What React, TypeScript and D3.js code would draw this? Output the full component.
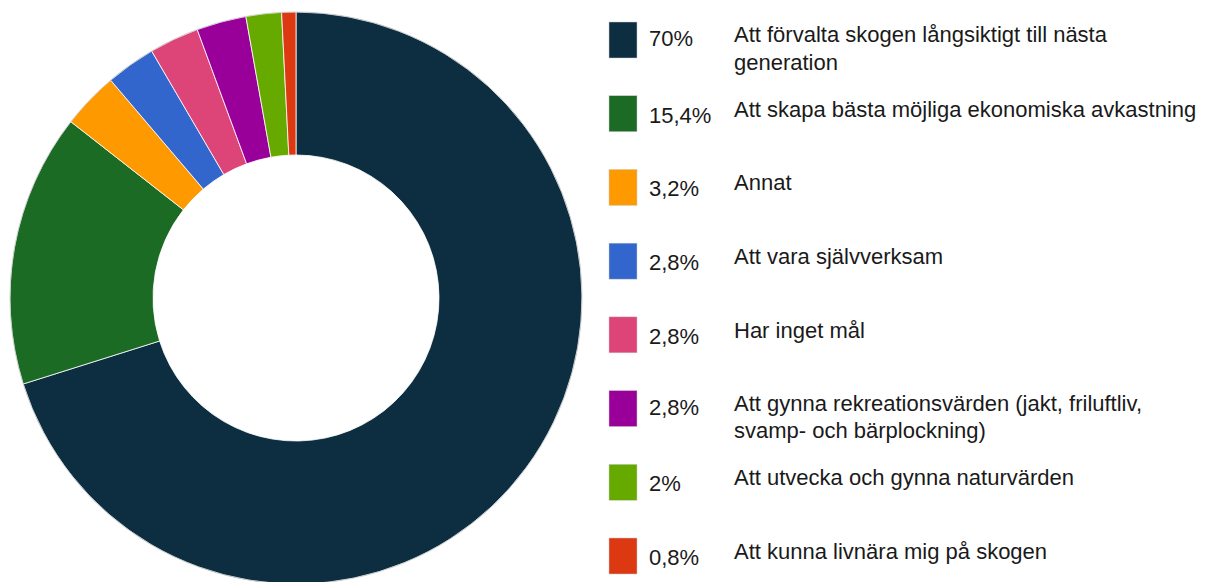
import React from "react";
import * as d3 from "d3";

const labels: string[][] = [
  ["Att förvalta skogen långsiktigt till nästa", "generation"],
  ["Att skapa bästa möjliga ekonomiska avkastning"],
  ["Annat"],
  ["Att vara självverksam"],
  ["Har inget mål"],
  ["Att gynna rekreationsvärden (jakt, friluftliv,", "svamp- och bärplockning)"],
  ["Att utvecka och gynna naturvärden"],
  ["Att kunna livnära mig på skogen"],
];
const values: number[] = [70, 15.4, 3.2, 2.8, 2.8, 2.8, 2, 0.8];
const pctLabels: string[] = ["70%", "15,4%", "3,2%", "2,8%", "2,8%", "2,8%", "2%", "0,8%"];
const colors: string[] = ["#0c2e40", "#1b6b25", "#ff9900", "#3366cc", "#dd4477", "#990099", "#66aa00", "#dc3912"];

export default function App() {
  const W = 1215, H = 582;
  const cx = 296, cy = 298, R = 286, r = 143;
  const pie = d3.pie<number>().sort(null).value((d) => d);
  const arcs = pie(values);
  const arc = d3.arc<d3.PieArcDatum<number>>().innerRadius(r).outerRadius(R);
  const legendY = d3.scaleLinear().domain([0, values.length - 1]).range([40, 556]);
  const font = "'Liberation Sans', Arial, sans-serif";
  return (
    <svg width={W} height={H} style={{ position: "absolute", left: 0, top: 0, background: "#fff" }}>
      <g transform={`translate(${cx},${cy})`}>
        {arcs.map((a, i) => (
          <path key={i} d={arc(a) || ""} fill={colors[i]} stroke="#fff" strokeWidth={0.8} />
        ))}
        <circle r={R} fill="none" stroke="#bbb" strokeWidth={0.6} />
      </g>
      {values.map((v, i) => {
        const y = legendY(i);
        const two = labels[i].length > 1;
        return (
          <g key={i}>
            <rect x={609} y={y - 18} width={28} height={36} fill={colors[i]} stroke="#ccc" strokeWidth={0.5} />
            <text x={649} y={y + (two ? 6 : 9)} fontFamily={font} fontSize={22} fill="#1a1a1a">
              {pctLabels[i]}
            </text>
            {labels[i].map((l, j) => (
              <text key={j} x={734} y={y + (two ? 2 : 3) + j * 27.5} fontFamily={font} fontSize={22} fill="#1a1a1a">
                {l}
              </text>
            ))}
          </g>
        );
      })}
    </svg>
  );
}
